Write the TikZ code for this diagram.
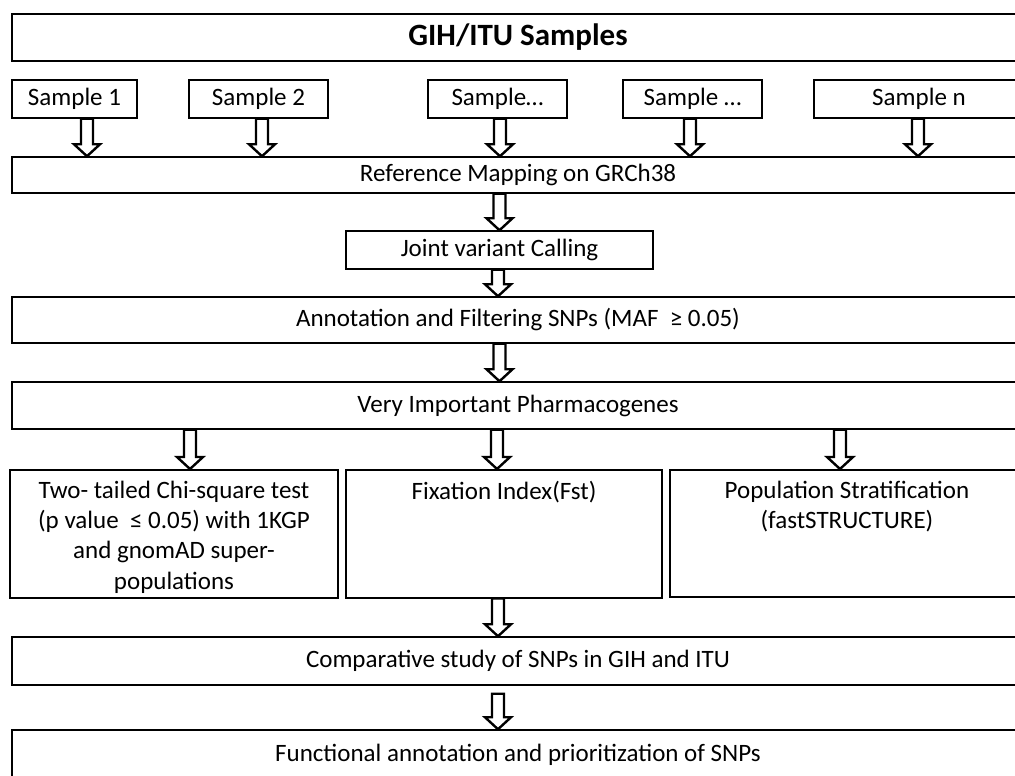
\documentclass[tikz,border=0pt]{standalone}
\usepackage{fontspec}
\setmainfont{Carlito}
\usetikzlibrary{calc}

\begin{document}
\begin{tikzpicture}[
  x=1pt, y=-1pt,
  box/.style={draw, line width=1.5pt, inner sep=0pt, minimum height=#1,
              font=\fontsize{25}{30}\selectfont},
  box/.default=38pt,
  hdr/.style={box=47pt, font=\fontsize{31}{34}\selectfont\bfseries},
  tall/.style={draw, line width=1.5pt, anchor=north, inner sep=0pt,
               font=\fontsize{25}{30.3}\selectfont},
  blockarr/.style={draw, line width=2.4pt, line join=miter,
    to path={let \p1=(\tikztostart), \p2=(\tikztotarget) in
      (\x1-6pt,\y1) -- (\x1+6pt,\y1) -- (\x1+6pt,\y2+12pt)
      -- (\x1+13pt,\y2+12pt) -- (\x1,\y2) -- (\x1-13pt,\y2+12pt)
      -- (\x1-6pt,\y2+12pt) -- cycle}}
]
  \clip (0,0) rectangle (1015,776);

  \begin{scope}[overlay]
  \node[hdr, minimum width=1012pt] (gih) at (518,37.5) {GIH/ITU Samples};

  \node[box, minimum width=125pt] (s1) at (74.5,99)  {Sample 1};
  \node[box, minimum width=139pt] (s2) at (258.5,99) {Sample 2};
  \node[box, minimum width=139pt] (s3) at (497.5,99) {Sample…};
  \node[box, minimum width=139pt] (s4) at (692.5,99) {Sample …};
  \node[box, minimum width=210pt] (s5) at (919,99)   {Sample n};

  \node[box=36pt, minimum width=1012pt] (ref)   at (518,175)   {Reference Mapping on GRCh38};
  \node[box, minimum width=307pt]        (joint) at (499.5,250) {Joint variant Calling};
  \node[box=46pt, minimum width=1012pt] (annot) at (518,320)   {Annotation and Filtering SNPs (MAF \ ≥ 0.05)};
  \node[box=47pt, minimum width=1012pt] (vip)   at (518,405.5) {Very Important Pharmacogenes};

  \node[tall] (chi) at (174,469) {\parbox[t][128pt][t]{328pt}{\centering\vspace*{11pt}%
    Two- tailed Chi-square test\\(p value \ ≤ 0.05) with 1KGP\\and gnomAD super-\\populations}};
  \node[tall] (fix) at (504,469) {\parbox[t][128pt][t]{316pt}{\centering\vspace*{11pt}%
    Fixation Index(Fst)}};
  \node[tall] (pop) at (847,469) {\parbox[t][127pt][t]{354pt}{\centering\vspace*{11pt}%
    Population Stratification\\(fastSTRUCTURE)}};

  \node[box=48pt, minimum width=1012pt] (comp) at (518,661) {Comparative study of SNPs in GIH and ITU};
  \node[box=50pt, minimum width=1012pt] (func) at (518,755) {Functional annotation and prioritization of SNPs};

  \draw[blockarr] ([xshift=12.5pt]s1.south) to (ref.north);
  \draw[blockarr] ([xshift=3.5pt]s2.south)  to (ref.north);
  \draw[blockarr] ([xshift=2.5pt]s3.south)  to (ref.north);
  \draw[blockarr] ([xshift=-2.5pt]s4.south) to (ref.north);
  \draw[blockarr] ([xshift=-1pt]s5.south)   to (ref.north);
  \draw[blockarr] (ref.south -| joint.north) to (joint.north);
  \draw[blockarr] ([xshift=-1.5pt]joint.south) to (annot.north);
  \draw[blockarr] (annot.south -| joint.south) to (vip.north);
  \draw[blockarr] ([xshift=16pt]chi.north |- vip.south) to (chi.north);
  \draw[blockarr] ([xshift=-7pt]fix.north |- vip.south) to (fix.north);
  \draw[blockarr] ([xshift=-7pt]pop.north |- vip.south) to (pop.north);
  \draw[blockarr] ([xshift=-6pt]fix.south) to (comp.north);
  \draw[blockarr] ([xshift=-20pt,yshift=-8pt]comp.south) to (func.north);
  \end{scope}
\end{tikzpicture}
\end{document}
